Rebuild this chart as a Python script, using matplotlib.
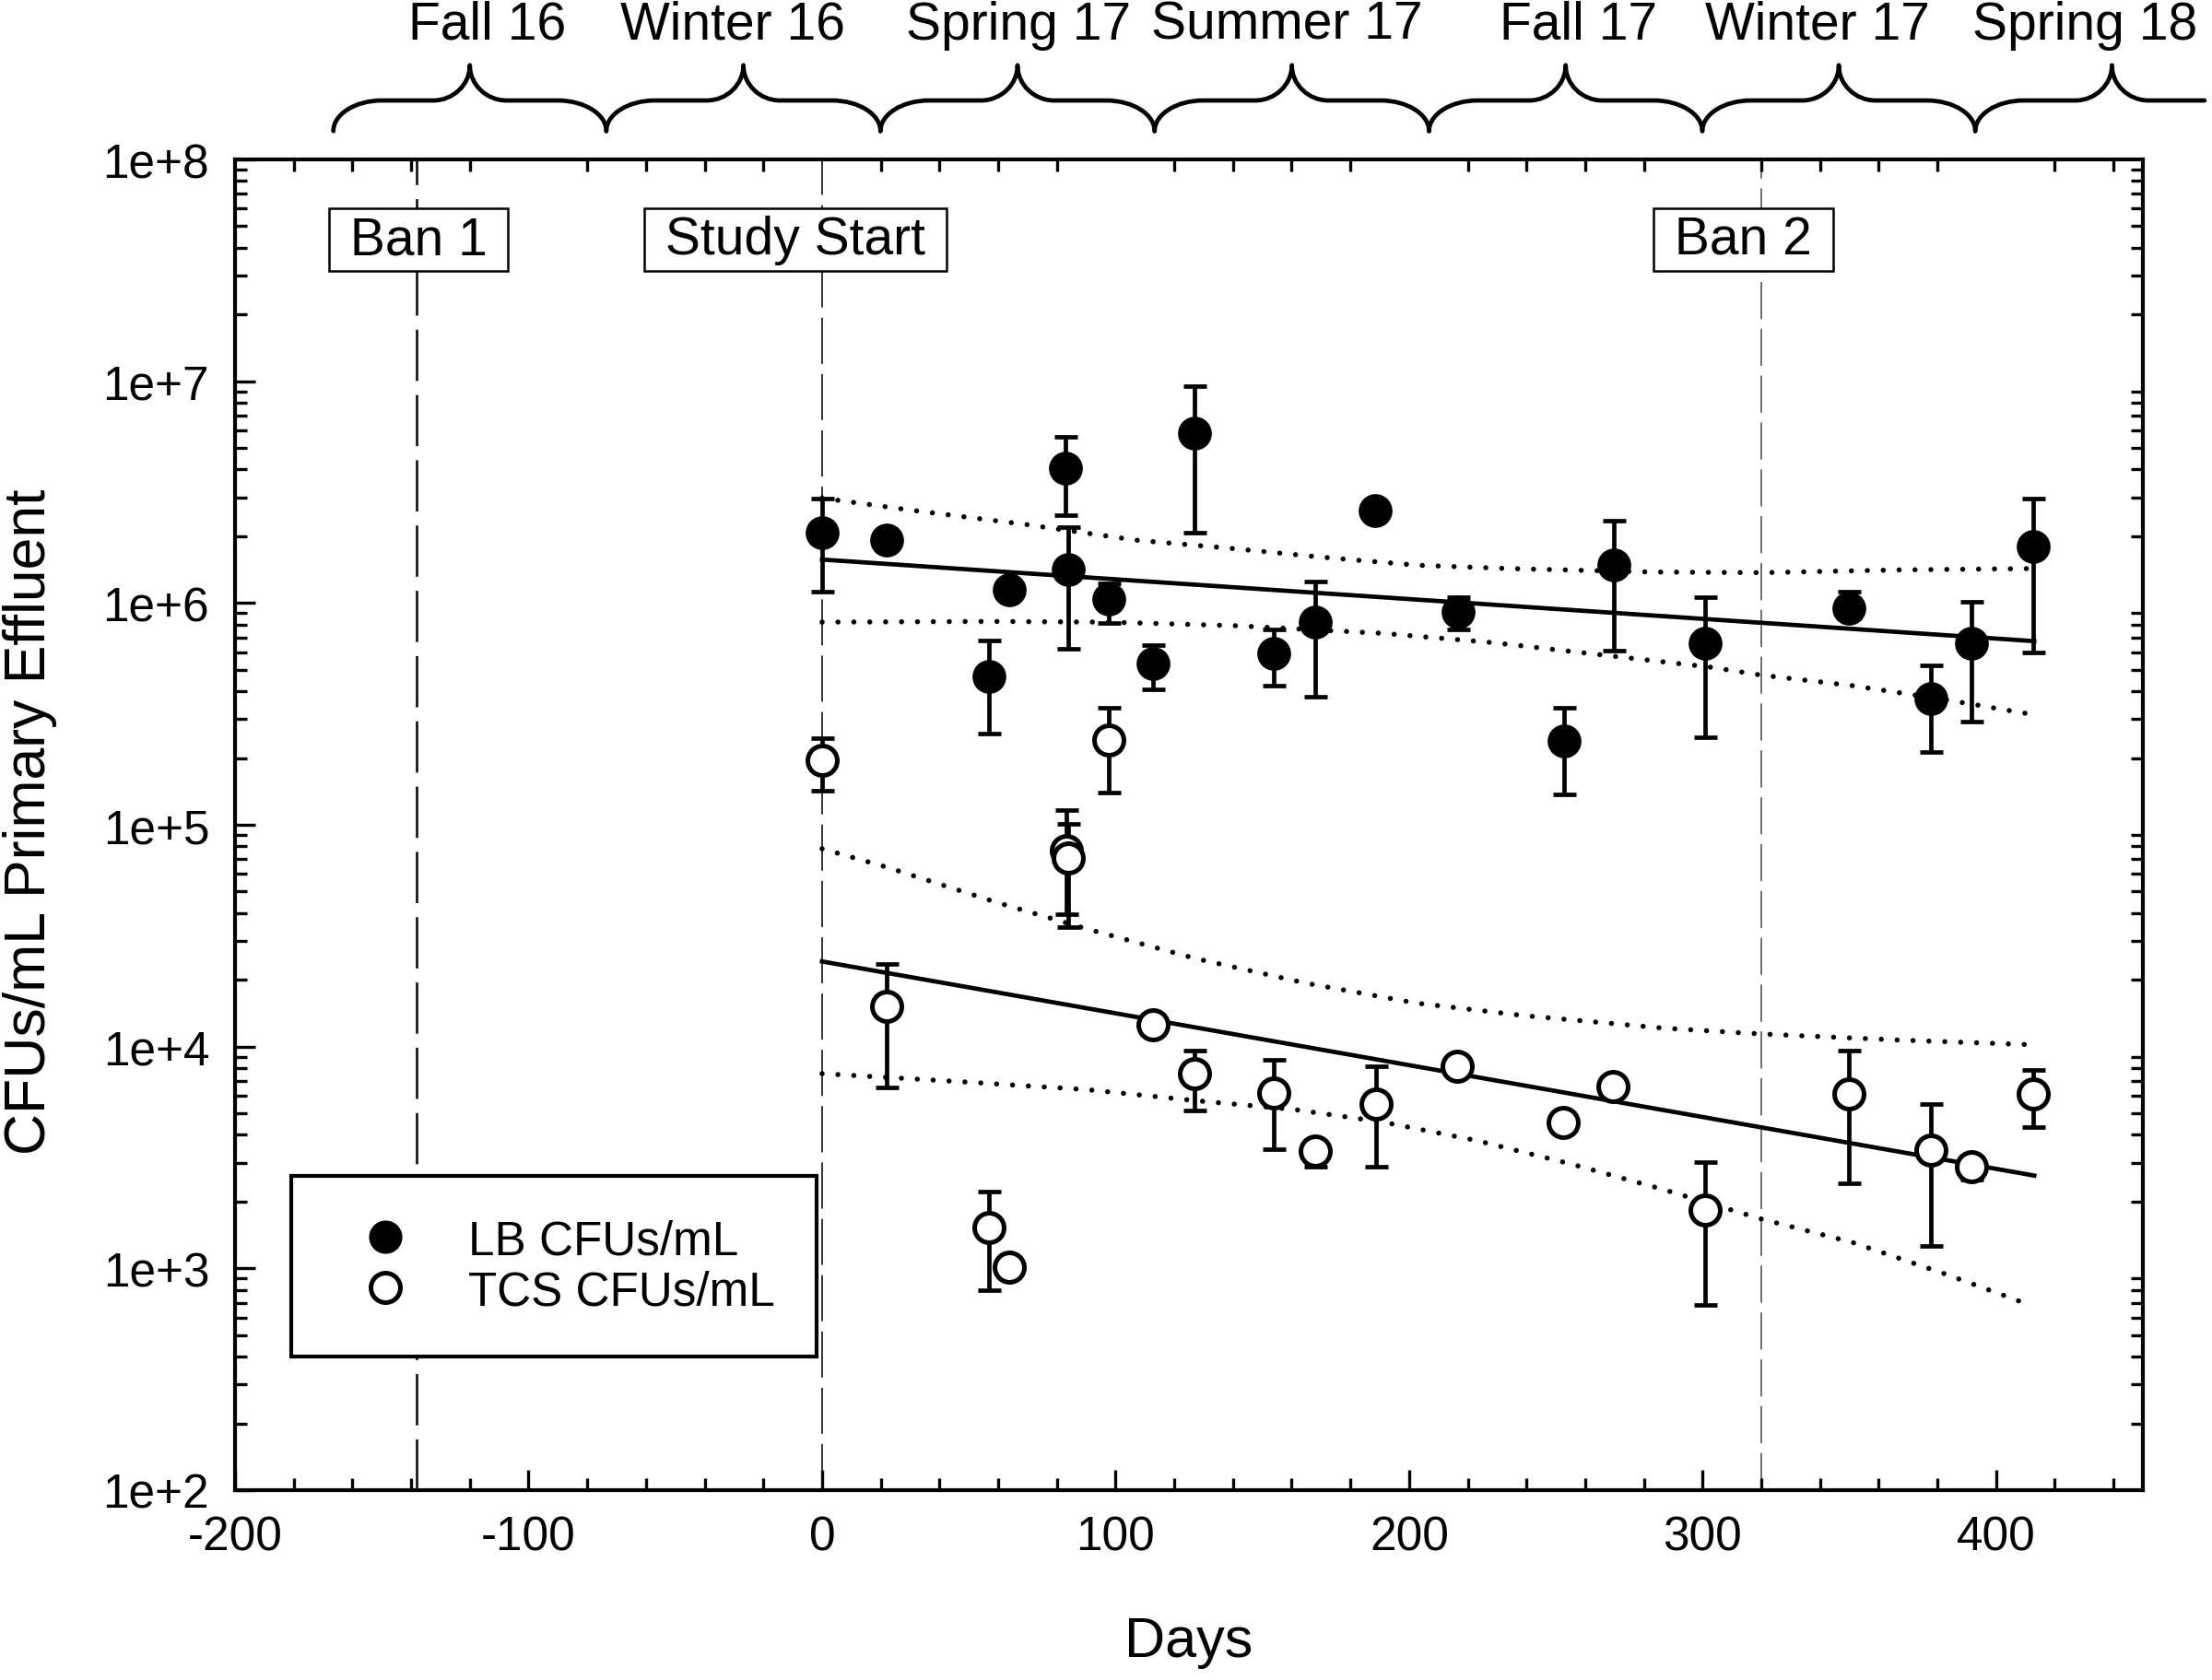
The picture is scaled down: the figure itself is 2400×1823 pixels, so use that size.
import numpy as np
import matplotlib
matplotlib.use('Agg')
import matplotlib.pyplot as plt
from matplotlib.path import Path
from matplotlib.patches import PathPatch
from matplotlib.lines import Line2D
import matplotlib.transforms as mtransforms
from matplotlib.ticker import MultipleLocator, LogLocator, FuncFormatter, NullFormatter

plt.rcParams['font.family'] = ['Liberation Sans', 'DejaVu Sans']
plt.rcParams['lines.scale_dashes'] = False
plt.rcParams['axes.unicode_minus'] = False

# ---------------- data ----------------
lb_day = [0, 22, 56.8, 63.9, 83, 83.8, 97.8, 112.8, 126.8, 153.9, 167.9, 188.5,
          216.7, 252.7, 269.7, 300.7, 349.7, 377.7, 391.6, 412.6]
lb_val = [2.07e6, 1.92e6, 4.66e5, 1.15e6, 4.06e6, 1.42e6, 1.04e6, 5.35e5, 5.83e6, 5.93e5,
          8.2e5, 2.60e6, 9.12e5, 2.38e5, 1.49e6, 6.58e5, 9.5e5, 3.70e5, 6.56e5, 1.79e6]
lb_lo = [1.12e6, 1.92e6, 2.58e5, 1.15e6, 2.48e6, 6.22e5, 8.15e5, 4.10e5, 2.07e6, 4.24e5,
         3.78e5, 2.60e6, 7.59e5, 1.37e5, 6.12e5, 2.47e5, 8.5e5, 2.12e5, 2.93e5, 5.98e5]
lb_hi = [2.97e6, 1.92e6, 6.79e5, 1.15e6, 5.60e6, 2.20e6, 1.23e6, 6.49e5, 9.53e6, 7.59e5,
         1.25e6, 2.60e6, 1.06e6, 3.36e5, 2.34e6, 1.06e6, 1.12e6, 5.25e5, 1.01e6, 2.97e6]

tcs_day = [0, 22, 56.8, 63.8, 83.1, 83.8, 97.8, 112.8, 126.8, 153.9, 167.9, 188.9,
           216.4, 252.4, 269.6, 300.7, 349.7, 377.7, 391.5, 412.6]
tcs_val = [1.96e5, 1.52e4, 1.53e3, 1.01e3, 7.66e4, 7.11e4, 2.42e5, 1.25e4, 7.55e3, 6.17e3,
           3.39e3, 5.52e3, 8.13e3, 4.57e3, 6.61e3, 1.84e3, 6.10e3, 3.43e3, 2.87e3, 6.12e3]
tcs_lo = [1.43e5, 6.52e3, 7.94e2, 1.01e3, 3.94e4, 3.47e4, 1.40e5, 1.25e4, 5.16e3, 3.44e3,
          2.87e3, 2.87e3, 8.13e3, 4.57e3, 6.61e3, 6.81e2, 2.42e3, 1.26e3, 2.51e3, 4.33e3]
tcs_hi = [2.45e5, 2.36e4, 2.21e3, 1.01e3, 1.16e5, 1.01e5, 3.36e5, 1.25e4, 9.57e3, 8.71e3,
          3.63e3, 8.18e3, 8.13e3, 4.57e3, 6.61e3, 3.01e3, 9.59e3, 5.53e3, 2.87e3, 7.87e3]

# regression lines (end points) and 95% bands
lb_fit_day = [0, 413]
lb_fit_val = [1.57e6, 6.73e5]
tcs_fit_day = [0, 413]
tcs_fit_val = [2.42e4, 2.62e3]

lb_up_day = [0, 31.5, 69.4, 107, 138, 170, 203, 234, 282, 320, 367, 412]
lb_up_val = [2.97e6, 2.61e6, 2.26e6, 1.92e6, 1.77e6, 1.61e6, 1.48e6, 1.43e6, 1.38e6, 1.37e6, 1.41e6, 1.43e6]
lb_dn_day = [0, 57, 97, 141, 191, 229, 261, 303, 320, 351, 383, 412]
lb_dn_val = [8.2e5, 8.26e5, 8.2e5, 7.9e5, 7.3e5, 6.62e5, 5.93e5, 5.13e5, 4.73e5, 4.24e5, 3.66e5, 3.15e5]

tcs_up_day = [0, 21.7, 59, 90, 127.5, 165, 202.5, 239, 287, 320, 367, 412]
tcs_up_val = [7.8e4, 6.46e4, 4.49e4, 3.40e4, 2.49e4, 1.93e4, 1.57e4, 1.38e4, 1.21e4, 1.14e4, 1.07e4, 1.02e4]
tcs_dn_day = [0, 43, 90, 127, 160.5, 191, 223, 255, 287, 320, 351, 383, 412]
tcs_dn_val = [7.55e3, 7.0e3, 6.4e3, 5.71e3, 5.21e3, 4.57e3, 3.77e3, 2.96e3, 2.26e3, 1.67e3, 1.31e3, 9.4e2, 6.8e2]

event_day = [-138, 0, 320]
event_label = ['Ban 1', 'Study Start', 'Ban 2']
event_label_x = [-137.5, -9.1, 313.9]

season_edges = [-166.5, -73.5, 19.9, 113.3, 206.8, 299.9, 392.9, 486]
season_labels = ['Fall 16', 'Winter 16', 'Spring 17', 'Summer 17', 'Fall 17', 'Winter 17', 'Spring 18']
season_label_x = [-114, -30.5, 67, 158.3, 257.8, 339, 430.3]

# ---------------- figure ----------------
fig = plt.figure(figsize=(12, 9.12), dpi=200)
ax = fig.add_axes([255/2400, 1 - 1618/1824, (2325 - 255)/2400, (1618 - 174)/1824])
ax.set_yscale('log')
ax.set_xlim(-200, 450)
ax.set_ylim(1e2, 1e8)

# event lines
ev_styles = [dict(color='black', lw=0.9, ls=(0, (20, 5.5))),
             dict(color='#222222', lw=0.65, ls=(0, (18, 4))),
             dict(color='#555555', lw=0.6, ls=(0, (14.5, 3.8)))]
for d, st in zip(event_day, ev_styles):
    ax.axvline(d, zorder=1, **st)

ylab = 4.34e7
for x, t in zip(event_label_x, event_label):
    ax.text(x, ylab, ' ' + t + ' ', ha='center', va='center', fontsize=20.5, zorder=6,
            bbox=dict(boxstyle='square,pad=0.12', fc='white', ec='black', lw=0.9))

# bands and fits
dot = dict(color='black', lw=2.0, ls=(0, (0.01, 6.2)), dash_capstyle='round', zorder=2)
ax.plot(lb_up_day, lb_up_val, **dot)
ax.plot(lb_dn_day, lb_dn_val, **dot)
ax.plot(tcs_up_day, tcs_up_val, **dot)
ax.plot(tcs_dn_day, tcs_dn_val, **dot)
ax.plot(lb_fit_day, lb_fit_val, color='black', lw=1.7, zorder=2.5)
ax.plot(tcs_fit_day, tcs_fit_val, color='black', lw=1.7, zorder=2.5)

# error bars
lbv = np.array(lb_val); tv = np.array(tcs_val)
ax.errorbar(lb_day, lb_val, yerr=[lbv - np.array(lb_lo), np.array(lb_hi) - lbv], fmt='none',
            ecolor='black', elinewidth=1.7, capsize=4.5, capthick=1.7, zorder=3)
ax.errorbar(tcs_day, tcs_val, yerr=[tv - np.array(tcs_lo), np.array(tcs_hi) - tv], fmt='none',
            ecolor='black', elinewidth=1.7, capsize=4.5, capthick=1.7, zorder=3)
ax.plot(lb_day, lb_val, 'o', ms=12.2, mfc='black', mec='black', mew=1.0, zorder=4, ls='none')
ax.plot(tcs_day, tcs_val, 'o', ms=11.5, mfc='white', mec='black', mew=1.8, zorder=4, ls='none')

# axes styling
for s in ax.spines.values():
    s.set_linewidth(1.5)
ax.xaxis.set_major_locator(MultipleLocator(100))
ax.xaxis.set_minor_locator(MultipleLocator(20))
ax.yaxis.set_major_locator(LogLocator(base=10, numticks=20))
ax.yaxis.set_minor_locator(LogLocator(base=10, subs=np.arange(2, 10), numticks=20))
ax.yaxis.set_minor_formatter(NullFormatter())
ax.yaxis.set_major_formatter(FuncFormatter(lambda v, p: '1e+%d' % int(round(np.log10(v)))))
ax.tick_params(which='both', direction='in', top=True, right=True, width=1.2)
ax.tick_params(which='major', top=False, right=False, length=7.9)
ax.tick_params(which='minor', length=4.6)
ax.tick_params(axis='x', which='major', labelsize=18.5, pad=9.5)
ax.tick_params(axis='y', which='major', labelsize=18.5, pad=10)

ax.set_xlabel('Days', fontsize=22)
ax.xaxis.set_label_coords(0.5, -0.094)
ax.set_ylabel('CFUs/mL Primary Effluent', fontsize=22.5)
ax.yaxis.set_label_coords(-0.093, 0.503)

# legend
h1 = Line2D([], [], marker='o', ls='none', ms=12, mfc='black', mec='black', mew=1.0)
h2 = Line2D([], [], marker='o', ls='none', ms=11.5, mfc='white', mec='black', mew=1.8)
leg = ax.legend([h1, h2], ['LB CFUs/mL', 'TCS CFUs/mL'], loc='upper left',
                bbox_to_anchor=((316 - 255)/2070, (1618 - 1277)/1444), borderaxespad=0,
                fontsize=18.4, borderpad=0.9, handlelength=2.18, handletextpad=0.67,
                labelspacing=0.12, fancybox=False, framealpha=1, edgecolor='black')
leg.get_frame().set_linewidth(1.5)
leg.set_zorder(7)

# season braces above the axes
trans = mtransforms.blended_transform_factory(ax.transData, ax.transAxes)
low, plat, peak = 1.0213, 1.0443, 1.0708
w1, w2, k = 16.5, 12.5, 0.55
brace_end = 471
for i in range(len(season_labels)):
    xa, xb = season_edges[i], season_edges[i + 1]
    xm = (xa + xb) / 2
    verts = [(xa, low),
             (xa, low + k*(plat - low)), (xa + (1 - k)*w1, plat), (xa + w1, plat),
             (xm - w2, plat),
             (xm - w2 + k*w2, plat), (xm, peak - k*(peak - plat)), (xm, peak),
             (xm, peak - k*(peak - plat)), (xm + w2 - k*w2, plat), (xm + w2, plat)]
    codes = [Path.MOVETO, Path.CURVE4, Path.CURVE4, Path.CURVE4, Path.LINETO,
             Path.CURVE4, Path.CURVE4, Path.CURVE4, Path.CURVE4, Path.CURVE4, Path.CURVE4]
    if xb <= brace_end:
        verts += [(xb - w1, plat), (xb - (1 - k)*w1, plat), (xb, low + k*(plat - low)), (xb, low)]
        codes += [Path.LINETO, Path.CURVE4, Path.CURVE4, Path.CURVE4]
    else:
        verts += [(brace_end, plat)]
        codes += [Path.LINETO]
    patch = PathPatch(Path(verts, codes), fc='none', ec='black', lw=1.7,
                      transform=trans, clip_on=False, capstyle='round', joinstyle='round')
    ax.add_patch(patch)
    ax.text(season_label_x[i], 1.0909, season_labels[i], transform=trans, ha='center',
            va='baseline', fontsize=20.5, clip_on=False)

fig.savefig('out.png', dpi=200)
